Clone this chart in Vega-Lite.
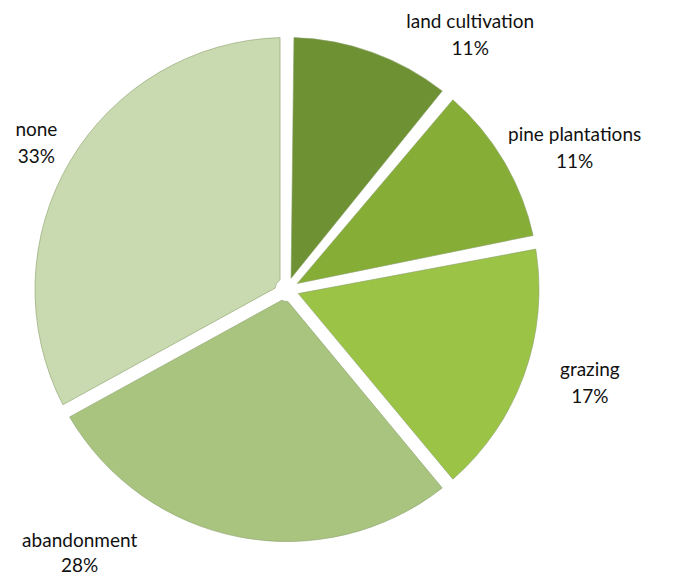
{
  "$schema": "https://vega.github.io/schema/vega-lite/v6.json",
  "width": 574,
  "height": 579,
  "autosize": {"type": "none"},
  "padding": {"left": 0, "right": 105, "top": 0, "bottom": 0},
  "background": "white",
  "data": {
    "values": [
      {"category": "land cultivation", "pct": 11, "order": 1},
      {"category": "pine plantations", "pct": 11, "order": 2},
      {"category": "grazing", "pct": 17, "order": 3},
      {"category": "abandonment", "pct": 28, "order": 4},
      {"category": "none", "pct": 33, "order": 5}
    ]
  },
  "transform": [
    {"calculate": "datum.category + '\\n' + datum.pct + '%'", "as": "label"}
  ],
  "encoding": {
    "theta": {"field": "pct", "type": "quantitative", "stack": true},
    "order": {"field": "order", "type": "quantitative", "sort": "ascending"}
  },
  "layer": [
    {
      "mark": {"type": "arc", "outerRadius": 252, "innerRadius": 12, "padAngle": 0.055, "stroke": "#8a9f6a", "strokeWidth": 0.6},
      "encoding": {
        "color": {
          "field": "category",
          "type": "nominal",
          "scale": {
            "domain": ["land cultivation", "pine plantations", "grazing", "abandonment", "none"],
            "range": ["#6e9133", "#86ad36", "#9bc446", "#a8c47f", "#c9dab0"]
          },
          "legend": null
        }
      }
    },
    {
      "mark": {"type": "text", "radius": 290, "dx": 85, "dy": 5, "font": "Lato", "fontSize": 19, "lineBreak": "\n", "lineHeight": 27, "color": "#111111"},
      "encoding": {"text": {"condition": {"test": "datum.category === 'land cultivation'", "field": "label"}, "value": ""}}
    },
    {
      "mark": {"type": "text", "radius": 290, "dx": 38, "dy": -7, "font": "Lato", "fontSize": 19, "lineBreak": "\n", "lineHeight": 27, "color": "#111111"},
      "encoding": {"text": {"condition": {"test": "datum.category === 'pine plantations'", "field": "label"}, "value": ""}}
    },
    {
      "mark": {"type": "text", "radius": 290, "dx": 30, "dy": -18, "font": "Lato", "fontSize": 19, "lineBreak": "\n", "lineHeight": 27, "color": "#111111"},
      "encoding": {"text": {"condition": {"test": "datum.category === 'grazing'", "field": "label"}, "value": ""}}
    },
    {
      "mark": {"type": "text", "radius": 290, "dx": -153, "dy": -33, "font": "Lato", "fontSize": 19, "lineBreak": "\n", "lineHeight": 25, "color": "#111111"},
      "encoding": {"text": {"condition": {"test": "datum.category === 'abandonment'", "field": "label"}, "value": ""}}
    },
    {
      "mark": {"type": "text", "radius": 290, "dx": -1, "dy": -12, "font": "Lato", "fontSize": 19, "lineBreak": "\n", "lineHeight": 27, "color": "#111111"},
      "encoding": {"text": {"condition": {"test": "datum.category === 'none'", "field": "label"}, "value": ""}}
    }
  ],
  "config": {"view": {"stroke": null}}
}
